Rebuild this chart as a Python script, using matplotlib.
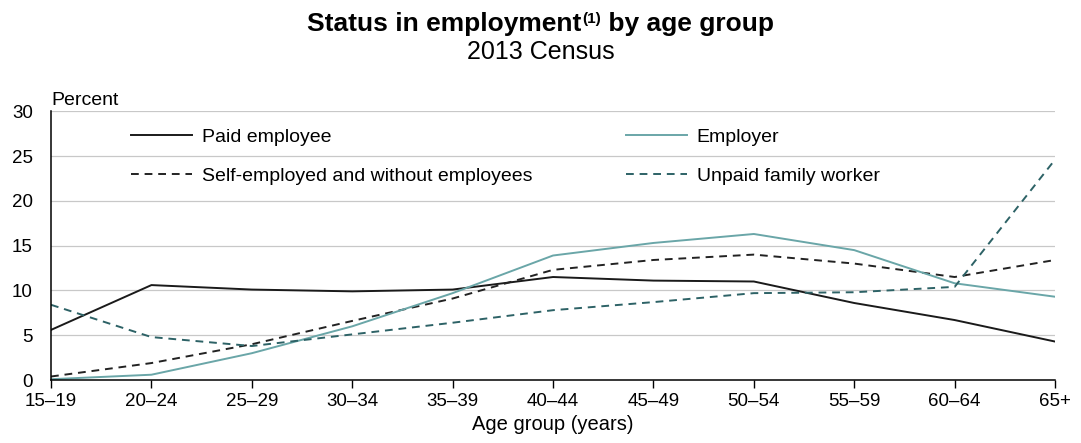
import numpy as np
import matplotlib.pyplot as plt

plt.rcParams['font.family'] = ['Liberation Sans', 'DejaVu Sans']

# data (percent)
age_groups = ["15\u201319", "20\u201324", "25\u201329", "30\u201334", "35\u201339", "40\u201344",
              "45\u201349", "50\u201354", "55\u201359", "60\u201364", "65+"]
paid_employee = [5.6, 10.6, 10.1, 9.9, 10.1, 11.5, 11.1, 11.0, 8.6, 6.7, 4.3]
employer = [0.1, 0.6, 3.0, 6.0, 9.7, 13.9, 15.3, 16.3, 14.5, 10.8, 9.3]
self_employed = [0.4, 1.9, 4.0, 6.6, 9.1, 12.3, 13.4, 14.0, 13.0, 11.5, 13.4]
unpaid_family = [8.4, 4.8, 3.8, 5.1, 6.4, 7.8, 8.7, 9.7, 9.8, 10.4, 24.6]

x = np.arange(len(age_groups))

fig = plt.figure(figsize=(10.81, 4.43), dpi=100)
ax = fig.add_axes([0.0472, 0.142, 0.9288, 0.607])

ax.plot(x, paid_employee, color='#1a1a1a', lw=1.4, label='Paid employee')
ax.plot(x, self_employed, color='#222222', lw=1.4, linestyle=(0, (4, 3)),
        label='Self-employed and without employees')
ax.plot(x, employer, color='#6aa6a8', lw=1.4, label='Employer')
ax.plot(x, unpaid_family, color='#2d6266', lw=1.4, linestyle=(0, (4, 3)),
        label='Unpaid family worker')

ax.set_xlim(0, len(age_groups) - 1)
ax.set_ylim(0, 30)
ax.set_yticks([0, 5, 10, 15, 20, 25, 30])
ax.set_xticks(x)
ax.set_xticklabels(age_groups)
ax.tick_params(axis='y', length=0, pad=13, labelsize=13.5)
ax.tick_params(axis='x', direction='out', length=6, width=1, pad=3, labelsize=13.5)

for v in [5, 10, 15, 20, 25, 30]:
    ax.axhline(v, color='#c8c8c8', lw=0.9, zorder=0)

for s in ['top', 'right']:
    ax.spines[s].set_visible(False)
ax.spines['left'].set_linewidth(1.1)
ax.spines['bottom'].set_linewidth(1.1)

ax.set_xlabel('Age group (years)', fontsize=14.5, labelpad=4)
ax.text(0.0, 1.01, 'Percent', transform=ax.transAxes, fontsize=14,
        ha='left', va='bottom')

ax.legend(ncol=2, loc='upper left', bbox_to_anchor=(0.062, 1.0), frameon=False,
          fontsize=14, handlelength=3.15, handletextpad=0.5, columnspacing=4.8,
          labelspacing=1.08)

# title with a small superscript, built from pieces
ty = 0.93
parts = [('Status in employment', 19, 0.0), ('(1)', 11, 0.017), (' by age group', 19, 0.0)]
fig.canvas.draw()
rend = fig.canvas.get_renderer()
texts = []
for s, fs, dy in parts:
    t = fig.text(0, ty + dy, s, fontsize=fs, fontweight='bold', va='baseline', ha='left')
    texts.append(t)
widths = [t.get_window_extent(rend).width / fig.bbox.width for t in texts]
xpos = 0.5 - sum(widths) / 2
for t, w in zip(texts, widths):
    t.set_x(xpos)
    xpos += w

fig.text(0.5, 0.866, '2013 Census', ha='center', va='baseline', fontsize=18)

fig.savefig('out.png', dpi=100)
